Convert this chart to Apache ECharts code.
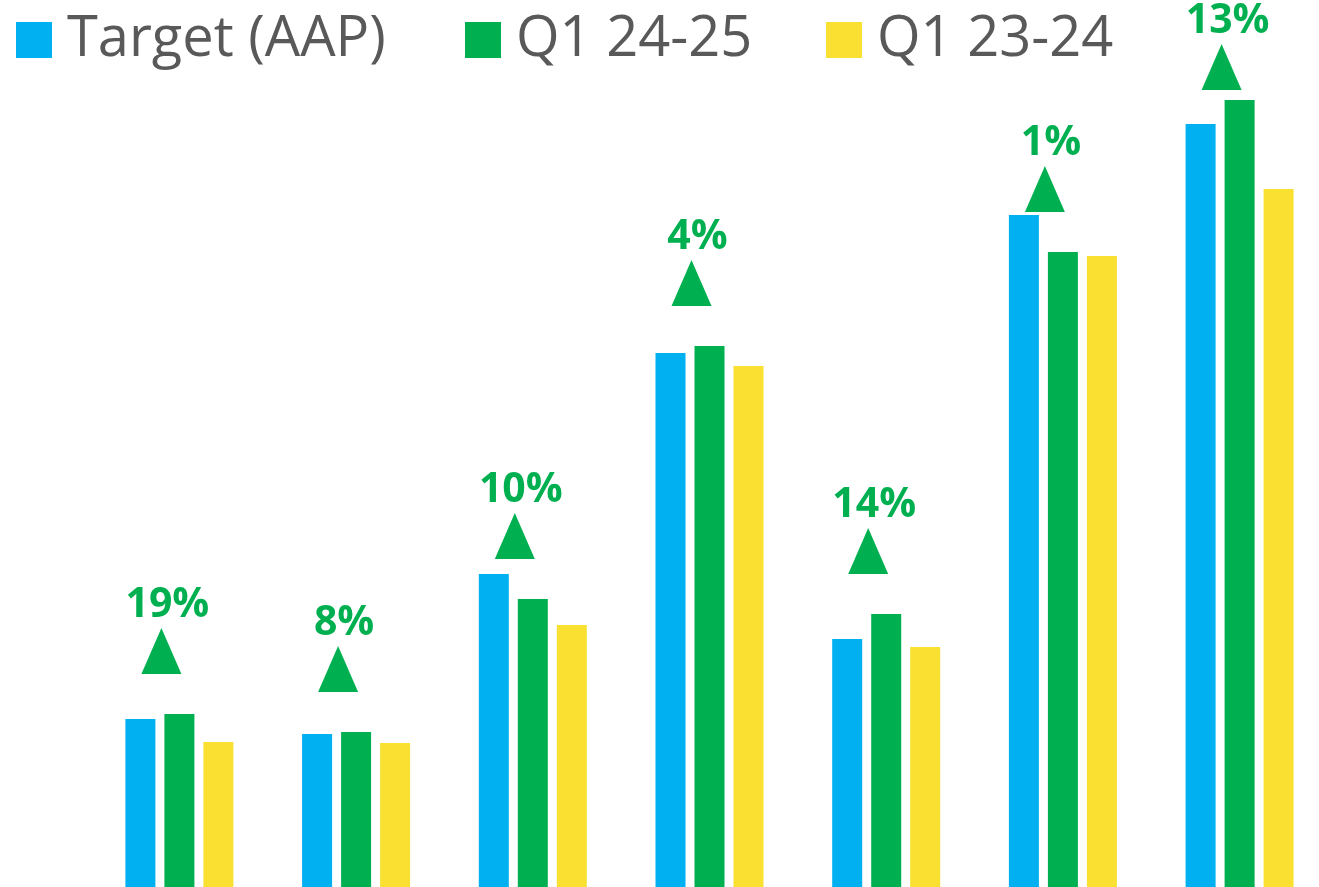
<!DOCTYPE html>
<html>
<head>
<meta charset="utf-8">
<script src="https://cdn.jsdelivr.net/npm/echarts@6/dist/echarts.min.js"></script>
<style>
html,body{margin:0;padding:0;background:#fff;}
#chart{width:1319px;height:887px;}
</style>
</head>
<body>
<div id="chart"></div>
<script>
var categories = ['G1', 'G2', 'G3', 'G4', 'G5', 'G6', 'G7'];
var targetAAP = [168, 153, 313, 534, 248, 672, 763];
var q1_2425 = [173, 155, 288, 541, 273, 635, 787];
var q1_2324 = [145, 144, 262, 521, 240, 631, 698];
var growthPct = [19, 8, 10, 4, 14, 1, 13];
var seriesNames = ['Target (AAP)', 'Q1 24-25', 'Q1 23-24'];
var colors = ['#00B0F0', '#00B050', '#F9E031'];

var Y_MAX = 887;
var markerData = q1_2425.map(function (v, i) {
  return [i, Math.min(v + 40, Y_MAX - 90), growthPct[i]];
});

var chart = echarts.init(document.getElementById('chart'));

function legendAt(left, name) {
  return {
    show: true,
    left: left,
    top: 10,
    padding: 0,
    data: [name],
    icon: 'rect',
    itemWidth: 36,
    itemHeight: 36,
    selectedMode: false,
    textStyle: {
      fontFamily: 'Open Sans',
      fontSize: 56,
      color: '#595959',
      padding: [0, 0, 0, 10],
      lineHeight: 60
    }
  };
}

var option = {
  animation: false,
  backgroundColor: '#fff',
  legend: [legendAt(16, seriesNames[0]), legendAt(465, seriesNames[1]), legendAt(826, seriesNames[2])],
  grid: { left: 179.4, top: 0, width: 1060.2, bottom: 0, containLabel: false },
  xAxis: {
    type: 'category',
    data: categories,
    boundaryGap: false,
    show: false
  },
  yAxis: {
    type: 'value',
    min: 0,
    max: Y_MAX,
    show: false
  },
  series: [
    { name: seriesNames[0], type: 'bar', clip: false, data: targetAAP, barWidth: 30, barGap: '30%', itemStyle: { color: colors[0] } },
    { name: seriesNames[1], type: 'bar', clip: false, data: q1_2425, barWidth: 30, barGap: '30%', itemStyle: { color: colors[1] } },
    { name: seriesNames[2], type: 'bar', clip: false, data: q1_2324, barWidth: 30, barGap: '30%', itemStyle: { color: colors[2] } },
    {
      type: 'custom',
      data: markerData,
      silent: true,
      clip: false,
      z: 10,
      renderItem: function (params, api) {
        var pt = api.coord([api.value(0), api.value(1)]);
        var cx = pt[0] - 18;
        var baseY = pt[1];
        var apexY = baseY - 46;
        return {
          type: 'group',
          children: [
            {
              type: 'polygon',
              shape: { points: [[cx - 20, baseY], [cx + 20, baseY], [cx, apexY]] },
              style: { fill: '#00B050' }
            },
            {
              type: 'text',
              style: {
                text: api.value(2) + '%',
                x: cx + 6,
                y: apexY - 2,
                align: 'center',
                verticalAlign: 'bottom',
                fontFamily: 'Open Sans',
                fontWeight: 'bold',
                fontSize: 41,
                fill: '#00B050'
              }
            }
          ]
        };
      }
    }
  ]
};
chart.setOption(option);
</script>
</body>
</html>
